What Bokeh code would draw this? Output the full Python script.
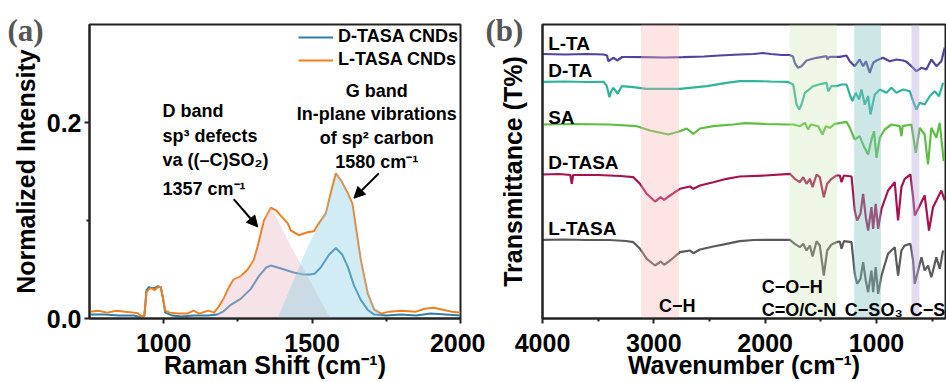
from bokeh.plotting import figure
from bokeh.layouts import row
from bokeh.models import (Range1d, FixedTicker, Label, Arrow, NormalHead, Title,
                          Legend, LegendItem, PrintfTickFormatter)
from bokeh.embed import file_html
from bokeh.resources import INLINE

# ---------------- Panel (a): Raman data ----------------
raman_l_x = [750, 780, 810, 840, 870, 900, 915, 925, 935, 942, 950, 960, 970, 980, 990, 998,
             1005, 1020, 1050, 1080, 1100, 1120, 1150, 1170, 1185, 1203, 1220, 1236, 1259, 1283,
             1304, 1316, 1338, 1361, 1380, 1394, 1418, 1428, 1455, 1484, 1506, 1518, 1546, 1563,
             1580, 1597, 1620, 1636, 1647, 1664, 1687, 1709, 1732, 1760, 1800, 1850, 1880, 1910,
             1940, 1970, 2000]
raman_l_y = [0.007, 0.008, 0.006, 0.008, 0.007, 0.006, 0.005, 0.002, 0.003, 0.027, 0.030, 0.031,
             0.029, 0.032, 0.032, 0.020, 0.008, 0.006, 0.005, 0.005, 0.008, 0.005, 0.008, 0.006,
             0.012, 0.021, 0.032, 0.040, 0.043, 0.050, 0.060, 0.073, 0.100, 0.113, 0.110, 0.105,
             0.097, 0.090, 0.085, 0.088, 0.089, 0.095, 0.107, 0.128, 0.148, 0.141, 0.128, 0.117,
             0.094, 0.060, 0.026, 0.009, 0.005, 0.007, 0.008, 0.007, 0.010, 0.011, 0.009, 0.007,
             0.006]

raman_d_x = [750, 800, 850, 900, 925, 935, 942, 950, 960, 970, 980, 990, 998, 1005, 1030, 1060,
             1100, 1150, 1180, 1200, 1226, 1259, 1293, 1320, 1345, 1361, 1384, 1406, 1438, 1470,
             1496, 1510, 1529, 1557, 1580, 1602, 1620, 1642, 1664, 1687, 1709, 1750, 1800, 1850,
             1900, 1950, 2000]
raman_d_y = [0.004, 0.004, 0.003, 0.003, 0.001, 0.003, 0.029, 0.032, 0.031, 0.031, 0.033, 0.032,
             0.020, 0.006, 0.003, 0.002, 0.003, 0.003, 0.004, 0.007, 0.014, 0.020, 0.030, 0.043,
             0.052, 0.054, 0.052, 0.050, 0.047, 0.045, 0.045, 0.046, 0.052, 0.065, 0.072, 0.065,
             0.053, 0.033, 0.019, 0.009, 0.004, 0.003, 0.004, 0.003, 0.005, 0.004, 0.003]

# fitted D and G band areas
d_band_x = [1175, 1203, 1236, 1283, 1304, 1327, 1344, 1361, 1430, 1490, 1562]
d_band_y = [0.0, 0.021, 0.040, 0.047, 0.060, 0.080, 0.105, 0.114, 0.073, 0.040, 0.0]
g_band_x = [1384, 1439, 1485, 1540, 1565, 1582, 1600, 1620, 1636, 1647, 1664, 1687, 1709, 1730, 1745]
g_band_y = [0.0, 0.040, 0.073, 0.107, 0.128, 0.148, 0.141, 0.128, 0.117, 0.094, 0.062, 0.030,
            0.013, 0.004, 0.0]

raman_xticks = [1000, 1500, 2000]
raman_xminor = [1250, 1750]
raman_yticks = [0.0, 0.2]
raman_yminor = [0.1]

# ---------------- Panel (b): FTIR data (stacked, offset a.u.) ----------------
lta_x = [4000, 3800, 3600, 3450, 3420, 3408, 3385, 3366, 3345, 3330, 3310, 3285, 3250, 3100, 2900,
         2738, 2550, 2408, 2229, 2100, 2022, 1950, 1850, 1780, 1750, 1734, 1707, 1673, 1628, 1580,
         1538, 1449, 1440, 1425, 1404, 1329, 1269, 1240, 1195, 1151, 1120, 1095, 1060, 1030, 1000,
         941, 881, 821, 760, 731, 686, 641, 596, 552, 507, 462, 417, 387]
lta_y = [264.5, 264, 264.5, 264, 263, 257.3, 259, 260.7, 259.5, 258, 259.5, 261.5, 261.5, 261.3,
         261, 261.3, 262, 263, 264, 264.5, 265.5, 264.5, 263.5, 263.5, 262, 255.7, 250.7, 252.3,
         258, 259.5, 260.7, 262.3, 259, 261.5, 261.7, 261.7, 263, 257.3, 252.3, 259, 252.3, 257.3,
         245.7, 255.7, 258, 260.7, 257.3, 259, 258, 256.7, 252.3, 247.3, 250.7, 249, 259, 252.3,
         257.3, 271]

dta_x = [4000, 3800, 3600, 3450, 3422, 3399, 3380, 3363, 3345, 3324, 3305, 3288, 3184, 3064, 2900,
         2765, 2525, 2346, 2229, 2100, 1950, 1800, 1748, 1718, 1694, 1673, 1643, 1568, 1494, 1449,
         1434, 1404, 1359, 1314, 1269, 1240, 1216, 1186, 1156, 1135, 1105, 1075, 1054, 1015, 970,
         910, 866, 821, 761, 701, 671, 641, 611, 567, 522, 477, 438, 402]
dta_y = [236.7, 237, 236.5, 236.7, 232.3, 221.3, 228, 230.7, 228, 224.7, 229, 232.3, 231.3, 229.7,
         229.7, 229.7, 232.3, 235.7, 237.3, 237.5, 237, 236.7, 234, 214, 209, 214, 225.7, 232.3,
         234.7, 235.7, 227.3, 232.3, 232.3, 234, 234, 224, 217.3, 225.7, 219, 229, 214, 222.3, 204,
         224, 229, 225.7, 230.7, 225.7, 229, 227.3, 217.3, 209, 215.7, 214, 222.3, 227.3, 222.3,
         235.7]

sa_x = [4000, 3700, 3400, 3153, 3034, 2950, 2870, 2765, 2705, 2645, 2585, 2466, 2286, 2182, 2000,
        1800, 1748, 1688, 1643, 1614, 1590, 1524, 1485, 1455, 1419, 1374, 1269, 1240, 1195, 1151,
        1114, 1075, 1045, 1022, 1000, 970, 926, 866, 791, 776, 765, 686, 665, 647, 611, 567, 537,
        507, 462, 432, 396]
sa_y = [194, 194.5, 194, 192.3, 188, 186, 184, 187.3, 190, 184.7, 190, 192.3, 194, 195.3, 194.5,
        194, 194, 192.3, 195.7, 189, 194, 192.3, 184, 192.3, 190.7, 194.7, 196.7, 190.7, 179,
        182.3, 172.3, 164, 179, 187.3, 160.7, 180.7, 189, 194, 192.3, 182.3, 192.3, 194, 179,
        165.7, 190.7, 184, 154, 190.7, 180.7, 195.7, 157.3]

dtasa_x = [4000, 3850, 3750, 3737, 3725, 3500, 3300, 3184, 3124, 3064, 2989, 2938, 2908, 2854,
           2765, 2675, 2645, 2585, 2466, 2346, 2229, 2000, 1778, 1734, 1688, 1658, 1628, 1598,
           1574, 1538, 1509, 1473, 1443, 1404, 1359, 1329, 1314, 1293, 1224, 1195, 1174, 1144,
           1120, 1096, 1075, 1045, 1030, 1007, 985, 955, 896, 836, 806, 776, 746, 695, 671, 656,
           611, 567, 528, 492, 447, 417, 387]
dtasa_y = [144, 144.5, 143.5, 134.7, 143.5, 143.5, 142.5, 141.3, 134.7, 124.7, 117, 121.3, 118.7,
           123, 129.7, 132, 129.7, 133, 136.3, 139.7, 142, 143, 144.7, 139.7, 136.3, 141.3, 134.7,
           139.7, 131.3, 144, 141.3, 121.3, 134.7, 139.7, 143, 143, 136.3, 143, 142, 108, 98,
           104.7, 124.7, 101.3, 88, 111.3, 89.7, 114.7, 89.7, 109.7, 128, 136.3, 98, 131.3, 139.7,
           144, 121.3, 103, 113, 123, 88, 111.3, 121.3, 128, 118]

ltasa_x = [4000, 3800, 3600, 3400, 3250, 3184, 3124, 3064, 2989, 2938, 2908, 2854, 2765, 2675,
           2645, 2585, 2466, 2346, 2229, 2100, 1778, 1734, 1688, 1658, 1628, 1598, 1574, 1538,
           1509, 1473, 1443, 1404, 1359, 1329, 1314, 1293, 1224, 1195, 1174, 1144, 1120, 1096,
           1075, 1045, 1030, 1007, 985, 955, 896, 836, 806, 776, 746, 695, 671, 656, 626, 596,
           567, 537, 507, 462, 432, 402]
ltasa_y = [78.7, 79, 78.5, 78.5, 77.5, 76.3, 69.7, 59.7, 53, 57, 53.7, 58, 66.3, 68, 65.3, 69, 72,
           74.7, 77.3, 78.5, 78.7, 74.7, 71.3, 74.7, 68, 73, 62, 77.3, 73, 43, 68, 74, 76.3, 77,
           69.7, 77.3, 76.3, 44.7, 34.7, 39.7, 56.3, 38, 26.3, 48, 26.3, 51.3, 24.7, 43, 64.7,
           71.3, 43, 68, 73, 74.7, 58, 34.7, 48, 61.3, 48, 53, 41.3, 61.3, 49.7, 68]

ftir_names = ["L-TA", "D-TA", "SA", "D-TASA", "L-TASA"]
ftir_label_y = [275, 248, 201, 156, 90]
ftir_xticks = [4000, 3000, 2000, 1000]
ftir_xminor = [3500, 2500, 1500, 500]

# assignment bands (wavenumber ranges)
band_lo = [2775, 1355, 960, 615]
band_hi = [3115, 1780, 1200, 685]

FONT = "Liberation Sans"
ORANGE = "#F07E1E"
BLUE = "#2E7EAA"


def style_axes(p):
    p.background_fill_color = "white"
    p.border_fill_color = "white"
    p.xgrid.visible = False
    p.ygrid.visible = False
    p.outline_line_color = "#222222"
    p.outline_line_width = 2
    for ax in (p.xaxis[0], p.yaxis[0]):
        ax.axis_line_width = 2
        ax.axis_line_color = "#222222"
        ax.major_tick_line_width = 2
        ax.minor_tick_line_width = 2
        ax.major_tick_line_color = "#222222"
        ax.minor_tick_line_color = "#222222"
        ax.major_tick_in = 0
        ax.major_tick_out = 5
        ax.minor_tick_in = 0
        ax.minor_tick_out = 3
        ax.major_label_text_font = FONT
        ax.major_label_text_font_size = "25px"
        ax.major_label_text_font_style = "bold"
        ax.major_label_text_color = "black"
        ax.axis_label_text_font = FONT
        ax.axis_label_text_font_size = "25px"
        ax.axis_label_text_font_style = "bold"
        ax.axis_label_text_color = "black"
        ax.major_label_standoff = 3
    p.xaxis.major_label_standoff = 10


def add_text(p, x, y, txt, size="18px", align="left"):
    p.add_layout(Label(x=x, y=y, text=txt, text_font=FONT, text_font_size=size,
                       text_font_style="bold", text_color="black", text_align=align,
                       text_baseline="middle"))


def panel_tag(p, txt, offset):
    p.add_layout(Title(text=txt, align="left", offset=offset, standoff=-46,
                       vertical_align="bottom", text_font="Liberation Serif",
                       text_font_size="31px", text_font_style="bold",
                       text_color="#555555"), "above")


# ---------------- figure (a) ----------------
pa = figure(width=485, height=382, output_backend="svg", toolbar_location=None,
            x_range=Range1d(750, 2000), y_range=Range1d(0, 0.3),
            min_border_left=89, min_border_right=25, min_border_top=24, min_border_bottom=63)
style_axes(pa)
pa.xaxis.ticker = FixedTicker(ticks=raman_xticks, minor_ticks=raman_xminor)
pa.yaxis.ticker = FixedTicker(ticks=raman_yticks, minor_ticks=raman_yminor)
pa.yaxis.formatter = PrintfTickFormatter(format="%.1f")
pa.xaxis.axis_label = "Raman Shift (cm\u207b\u00b9)"
pa.yaxis.axis_label = "Normalized Intensity"
pa.xaxis.axis_label_standoff = -4
pa.yaxis.axis_label_standoff = 4

rd = pa.line(raman_d_x, raman_d_y, line_color=BLUE, line_width=2)
rl = pa.line(raman_l_x, raman_l_y, line_color=ORANGE, line_width=2)
pa.varea(x=d_band_x, y1=[0] * len(d_band_x), y2=d_band_y, fill_color="#E7B9C6", fill_alpha=0.4)
pa.varea(x=g_band_x, y1=[0] * len(g_band_x), y2=g_band_y, fill_color="#8DCFE3", fill_alpha=0.4)

legend = Legend(items=[LegendItem(label="D-TASA CNDs", renderers=[rd]),
                       LegendItem(label="L-TASA CNDs", renderers=[rl])],
                location="top_right", border_line_alpha=0, background_fill_alpha=0,
                label_text_font=FONT, label_text_font_size="18px", label_text_font_style="bold",
                label_text_color="black",
                glyph_width=35, label_standoff=5, spacing=2, padding=0, margin=2)
pa.add_layout(legend)

# annotations (a)
add_text(pa, 996, 0.2122, "D band")
add_text(pa, 996, 0.1858, "sp\u00b3 defects")
add_text(pa, 996, 0.1614, "va ((\u2013C)SO\u2082)")
add_text(pa, 996, 0.1320, "1357 cm\u207b\u00b9")
add_text(pa, 1718, 0.2325, "G band", align="center")
add_text(pa, 1718, 0.2091, "In-plane vibrations", align="center")
add_text(pa, 1718, 0.1838, "of sp\u00b2 carbon", align="center")
add_text(pa, 1718, 0.1594, "1580 cm\u207b\u00b9", align="center")
pa.add_layout(Arrow(end=NormalHead(size=11, fill_color="black", line_color="black"),
                    x_start=1236, y_start=0.1218, x_end=1317, y_end=0.0934,
                    line_width=2, line_color="black"))
pa.add_layout(Arrow(end=NormalHead(size=11, fill_color="black", line_color="black"),
                    x_start=1725, y_start=0.1482, x_end=1641, y_end=0.1228,
                    line_width=2, line_color="black"))
panel_tag(pa, "(a)", -82)

# ---------------- figure (b) ----------------
pb = figure(width=461, height=382, output_backend="svg", toolbar_location=None,
            x_range=Range1d(4000, 380), y_range=Range1d(0, 294),
            min_border_left=57, min_border_right=1, min_border_top=24, min_border_bottom=64)
style_axes(pb)
pb.xaxis.ticker = FixedTicker(ticks=ftir_xticks, minor_ticks=ftir_xminor)
pb.yaxis.ticker = FixedTicker(ticks=[], minor_ticks=[])
pb.yaxis.major_tick_out = 0
pb.yaxis.minor_tick_out = 0
pb.xaxis.axis_label = "Wavenumber (cm\u207b\u00b9)"
pb.yaxis.axis_label = "Transmittance (T%)"
pb.xaxis.axis_label_standoff = -4
pb.yaxis.axis_label_standoff = 16

ftir_x = [lta_x, dta_x, sa_x, dtasa_x, ltasa_x]
ftir_y = [lta_y, dta_y, sa_y, dtasa_y, ltasa_y]
ftir_colors = ["#4E44A0", "#30B39B", "#5DBE42", "#A6124F", "#5A5A5A"]
for xs, ys, c in zip(ftir_x, ftir_y, ftir_colors):
    pb.line(xs, ys, line_color=c, line_width=2.2)

band_colors = ["#F9B4B4", "#C8E6A8", "#7FC4C0", "#B3A8DA"]
band_alpha = [0.35, 0.3, 0.4, 0.4]
pb.quad(left=band_lo, right=band_hi, bottom=0, top=294, fill_color=band_colors,
        fill_alpha=band_alpha, line_alpha=0)

for name, yv in zip(ftir_names, ftir_label_y):
    add_text(pb, 3949, yv, name, size="19px")
add_text(pb, 2953, 13, "C\u2212H")
add_text(pb, 2031, 32, "C\u2212O\u2212H")
add_text(pb, 2031, 9, "C=O/C-N")
add_text(pb, 1284, 9, "C\u2212SO\u2083")
add_text(pb, 701, 9, "C\u2212S")
panel_tag(pb, "(b)", -57)

layout = row(pa, pb)
open("out.html", "w").write(file_html(layout, INLINE))
